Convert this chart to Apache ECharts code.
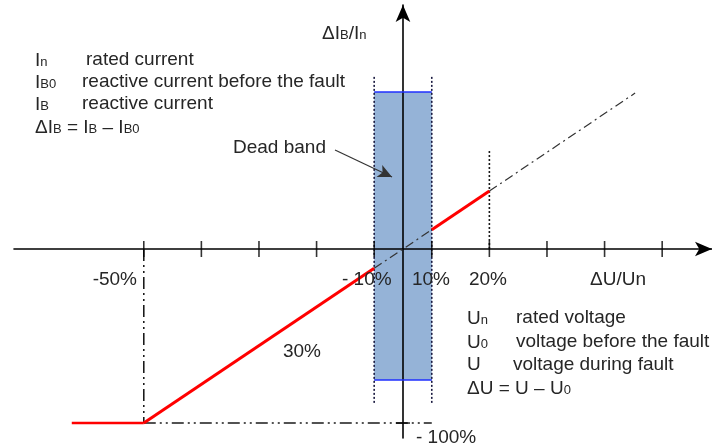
<!DOCTYPE html>
<html>
<head>
<meta charset="utf-8" />
<title>Dead band characteristic</title>
<script src="https://cdn.jsdelivr.net/npm/echarts@6/dist/echarts.min.js"></script>
<style>
  html, body { margin: 0; padding: 0; background: #fff; }
  #chart { width: 712px; height: 445px; }
</style>
</head>
<body>
<div id="chart"></div>
<script>
// x in tick steps (one step = one tick, origin on the vertical axis), y in % of In
var xTicks = [-4.5, -3.5, -2.5, -1.5, -0.5, 0.5, 1.5, 2.5, 3.5, 4.5];
var yTicks = [-100];

var redFloor = [[-5.75, -100], [-4.5, -100]];
var redRamp  = [[-4.5, -100], [-0.5, -11.1]];
var redHigh  = [[0.5, 11.1], [1.5, 33.3]];
var guideInner = [[-0.5, -11.1], [0.5, 11.1]];
var guideOuter = [[1.5, 33.3], [4.03, 89.6]];
var floorGuide = [[-4.5, -100], [0.5, -100]];
var minus50Guide = [[-4.5, 0], [-4.5, -100]];
var plus20Guide = [[1.5, 0], [1.5, 56.9]];
var bandLeft  = [[-0.5, 98.9], [-0.5, -88.5]];
var bandRight = [[0.5, 98.9], [0.5, -88.5]];
var bandTop = [[-0.5, 90.2], [0.5, 90.2]];
var bandBottom = [[-0.5, -75.3], [0.5, -75.3]];
var bandArea = [[-0.5, 90.2], [0.5, -75.3]];
var arrowFrom = [-1.18, 56.9];
var arrowTo = [-0.19, 41.4];

var FONT = 'Liberation Sans, Arial, sans-serif';
var TXT = '#262626';

var rich = {
    m: { fontSize: 19, fontFamily: FONT, fill: TXT, lineHeight: 20, verticalAlign: 'bottom' },
    s: { fontSize: 13, fontFamily: FONT, fill: TXT, lineHeight: 20, verticalAlign: 'bottom', padding: [0, 0, 1, 0] }
};

function txt(x, y, text, align) {
    return {
        type: 'text', x: x, y: y, z: 10,
        style: {
            text: text, rich: rich, align: align || 'left', verticalAlign: 'middle',
            fontSize: 19, fontFamily: FONT, fill: TXT
        }
    };
}

function seg(data, color, width, type) {
    return {
        type: 'line', data: data, symbol: 'none', z: 4, silent: true,
        lineStyle: { color: color, width: width, type: type || 'solid' }
    };
}

var dashDot = [9, 4, 2, 4];
var dashDotDot = [12, 4, 2, 4, 2, 4];

var myChart = echarts.init(document.getElementById('chart'));
var option = {
    animation: false,
    backgroundColor: '#ffffff',
    grid: { left: 14, right: 0, top: 5, bottom: 7 },
    xAxis: {
        type: 'value', min: -6.753, max: 5.365, z: 3,
        axisLine: { onZero: true, symbol: ['none', 'arrow'], symbolSize: [11, 17], lineStyle: { color: '#000', width: 1.6 } },
        axisTick: { show: false }, axisLabel: { show: false }, splitLine: { show: false }
    },
    yAxis: {
        type: 'value', min: -108.6, max: 140.2, z: 3,
        axisLine: { onZero: true, symbol: ['none', 'arrow'], symbolSize: [11, 17], lineStyle: { color: '#000', width: 1.6 } },
        axisTick: { show: false }, axisLabel: { show: false }, splitLine: { show: false }
    },
    graphic: [
        txt(35, 60, '{m|I}{s|n}'),
        txt(86, 60, 'rated current'),
        txt(35, 82, '{m|I}{s|B0}'),
        txt(82, 82, 'reactive current before the fault'),
        txt(35, 104, '{m|I}{s|B}'),
        txt(82, 104, 'reactive current'),
        txt(35, 127, '{m|ΔI}{s|B}{m| = I}{s|B}{m| – I}{s|B0}'),
        txt(322, 33, '{m|ΔI}{s|B}{m|/I}{s|n}'),
        txt(233, 148, 'Dead band'),
        txt(137, 280, '-50%', 'right'),
        txt(342, 280, '- 10%'),
        txt(431, 280, '10%', 'center'),
        txt(488, 280, '20%', 'center'),
        txt(618, 280, 'ΔU/Un', 'center'),
        txt(302, 352, '30%', 'center'),
        txt(416, 438, '- 100%'),
        txt(467, 318, '{m|U}{s|n}'),
        txt(516, 318, 'rated voltage'),
        txt(467, 342, '{m|U}{s|0}'),
        txt(516, 342, 'voltage before the fault'),
        txt(467, 365, 'U'),
        txt(513, 365, 'voltage during fault'),
        txt(467, 388, '{m|ΔU = U – U}{s|0}')
    ],
    series: [
        {
            type: 'line', data: [], silent: true,
            markArea: {
                silent: true, z: 1,
                itemStyle: { color: '#95b3d7', opacity: 1 },
                data: [[{ coord: bandArea[0] }, { coord: bandArea[1] }]]
            }
        },
        seg(bandTop, '#1f2fff', 1.5),
        seg(bandBottom, '#1f2fff', 1.5),
        seg(bandLeft, '#1a1a40', 1.6, [2, 2]),
        seg(bandRight, '#1a1a40', 1.6, [2, 2]),
        seg(plus20Guide, '#1a1a1a', 1.6, [2, 2]),
        seg(minus50Guide, '#1a1a1a', 1.6, dashDotDot),
        seg(floorGuide, '#1a1a1a', 1.6, dashDotDot),
        seg(guideInner, '#333333', 1.2, dashDot),
        seg(guideOuter, '#333333', 1.2, dashDot),
        seg(redFloor, '#ff0000', 2.5),
        seg(redRamp, '#ff0000', 3),
        seg(redHigh, '#ff0000', 3),
        {
            type: 'scatter', z: 5, silent: true,
            symbol: 'rect', symbolSize: [1.6, 16],
            itemStyle: { color: '#000' },
            data: xTicks.map(function (v) { return [v, 0]; })
        },
        {
            type: 'scatter', z: 5, silent: true,
            symbol: 'rect', symbolSize: [14, 1.6],
            itemStyle: { color: '#000' },
            data: yTicks.map(function (v) { return [0, v]; })
        },
        {
            type: 'line', data: [], silent: true,
            markLine: {
                silent: true, symbol: ['none', 'arrow'], symbolSize: [10, 14],
                label: { show: false },
                lineStyle: { color: '#333', width: 1.2, type: 'solid' },
                data: [[{ coord: arrowFrom }, { coord: arrowTo }]]
            }
        }
    ]
};
option && myChart.setOption(option);
</script>
</body>
</html>
